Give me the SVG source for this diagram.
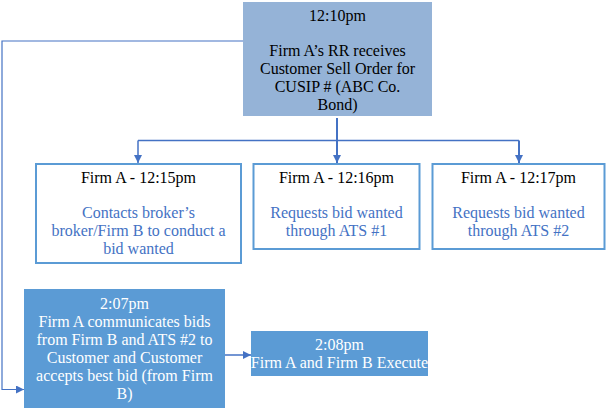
<svg xmlns="http://www.w3.org/2000/svg" width="606" height="410" viewBox="0 0 606 410">
<style>
text{font-family:"Liberation Serif","Times New Roman",serif;font-size:16px;text-anchor:middle}
.dk{fill:#000}
.bl{fill:#4472c4}
.wh{fill:#fff}
.ob{fill:#fff;stroke:#5b9bd5;stroke-width:2}
.c{fill:none;stroke:#4472c4;stroke-width:1.5}
</style>
<defs>
<marker id="ah" viewBox="0 0 10 10" refX="10" refY="5" markerWidth="8" markerHeight="8" markerUnits="userSpaceOnUse" orient="auto">
<path d="M0,0 L10,5 L0,10 z" fill="#4472c4"/>
</marker>
</defs>
<rect width="606" height="410" fill="#fff"/>
<g id="connectors">
<path class="c" d="M337,118 V163" style="stroke-width:2" marker-end="url(#ah)"/>
<path class="c" d="M138,140.5 H519"/>
<path class="c" d="M138,140.5 V163" marker-end="url(#ah)"/>
<path class="c" d="M519,140.5 V163" style="stroke-width:2" marker-end="url(#ah)"/>
<path class="c" d="M243,41 H2 V389.5 H24" style="stroke-width:1.2" marker-end="url(#ah)"/>
<path class="c" d="M225,355 H251" marker-end="url(#ah)"/>
</g>
<g id="n-top">
<rect x="243" y="2" width="189" height="114" fill="#95b3d7"/>
<text class="dk" x="337.5" y="21">12:10pm</text>
<text class="dk" x="337.5" y="55.5">Firm A’s RR receives</text>
<text class="dk" x="337.5" y="73.5">Customer Sell Order for</text>
<text class="dk" x="337.5" y="91.5">CUSIP # (ABC Co.</text>
<text class="dk" x="337.5" y="109.5">Bond)</text>
</g>
<g id="n-1215">
<rect class="ob" x="36" y="164" width="205" height="99"/>
<text class="dk" x="138.5" y="183">Firm A - 12:15pm</text>
<text class="bl" x="138.5" y="218">Contacts broker’s</text>
<text class="bl" x="138.5" y="236">broker/Firm B to conduct a</text>
<text class="bl" x="138.5" y="254">bid wanted</text>
</g>
<g id="n-1216">
<rect class="ob" x="253.5" y="164" width="166" height="85"/>
<text class="dk" x="336.5" y="183">Firm A - 12:16pm</text>
<text class="bl" x="336.5" y="218">Requests bid wanted</text>
<text class="bl" x="336.5" y="236">through ATS #1</text>
</g>
<g id="n-1217">
<rect class="ob" x="432.5" y="164" width="172" height="85"/>
<text class="dk" x="518.5" y="183">Firm A - 12:17pm</text>
<text class="bl" x="518.5" y="218">Requests bid wanted</text>
<text class="bl" x="518.5" y="236">through ATS #2</text>
</g>
<g id="n-207">
<rect x="24" y="289" width="201" height="119" fill="#5b9bd5"/>
<text class="wh" x="124.5" y="309">2:07pm</text>
<text class="wh" x="124.5" y="327">Firm A communicates bids</text>
<text class="wh" x="124.5" y="345">from Firm B and ATS #2 to</text>
<text class="wh" x="124.5" y="363">Customer and Customer</text>
<text class="wh" x="124.5" y="381">accepts best bid (from Firm</text>
<text class="wh" x="124.5" y="399">B)</text>
</g>
<g id="n-208">
<rect x="251" y="331" width="177" height="45" fill="#5b9bd5"/>
<text class="wh" x="339.5" y="349.5">2:08pm</text>
<text class="wh" x="339.5" y="367.5">Firm A and Firm B Execute</text>
</g>
</svg>
